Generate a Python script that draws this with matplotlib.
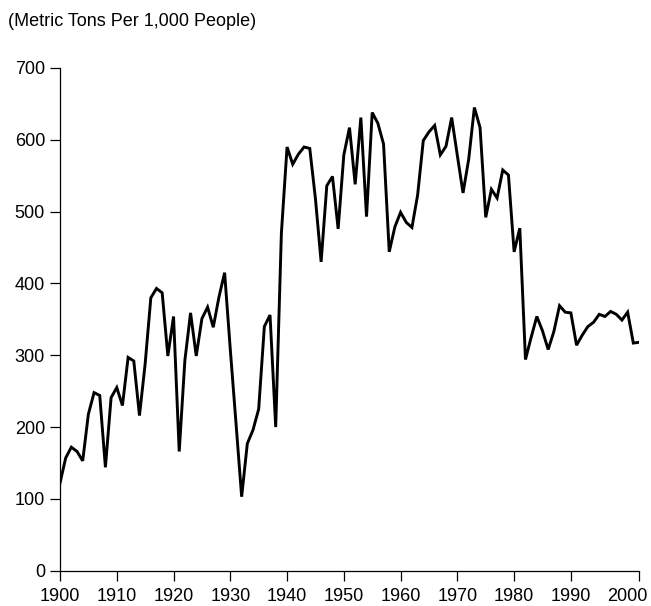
import matplotlib
matplotlib.use('Agg')
import matplotlib.pyplot as plt

plt.rcParams['font.family'] = ['Liberation Sans', 'DejaVu Sans']

years = list(range(1900, 2003))
values = [
    122, 157, 172, 166, 153, 218, 248, 244, 144, 241,   # 1900-1909
    255, 230, 297, 292, 216, 288, 380, 393, 387, 299,   # 1910-1919
    354, 166, 293, 359, 299, 351, 367, 339, 381, 415,   # 1920-1929
    308, 206, 103, 177, 196, 225, 340, 356, 200, 470,   # 1930-1939
    590, 566, 580, 590, 588, 518, 430, 536, 549, 476,   # 1940-1949
    579, 617, 538, 631, 493, 638, 623, 594, 444, 479,   # 1950-1959
    499, 485, 478, 523, 599, 611, 620, 579, 591, 631,   # 1960-1969
    578, 526, 573, 645, 617, 492, 531, 519, 558, 551,   # 1970-1979
    444, 477, 294, 325, 354, 334, 308, 333, 369, 360,   # 1980-1989
    359, 314, 328, 340, 346, 357, 354, 361, 357, 349,   # 1990-1999
    360, 317, 318,                                      # 2000-2002
]
x_ticks = list(range(1900, 2001, 10))
y_ticks = list(range(0, 701, 100))

fig = plt.figure(figsize=(6.51, 6.06), dpi=100)
ax = fig.add_axes([60 / 651, 1 - 570.7 / 606, 579 / 651, 502.7 / 606])

ax.plot(years, values, color='black', linewidth=2.1, solid_joinstyle='miter')

ax.set_xlim(1900, 2002)
ax.set_ylim(0, 700)
ax.set_xticks(x_ticks)
ax.set_xticks([2002], minor=True)
ax.set_yticks(y_ticks)
# the end tick sits at the axis end, not under the "2000" label
ax.xaxis.get_major_ticks()[-1].tick1line.set_visible(False)

for s in ['top', 'right']:
    ax.spines[s].set_visible(False)
for s in ['left', 'bottom']:
    ax.spines[s].set_linewidth(0.9)

ax.tick_params(axis='both', which='both', direction='out', length=7.2,
               width=0.9, labelsize=13, colors='black')
ax.tick_params(axis='x', pad=5.5)
ax.tick_params(axis='y', pad=3.6)

fig.text(8 / 651, 1 - 21.5 / 606, '(Metric Tons Per 1,000 People)',
         fontsize=13, ha='left', va='center')

fig.savefig('out.png', dpi=100)
